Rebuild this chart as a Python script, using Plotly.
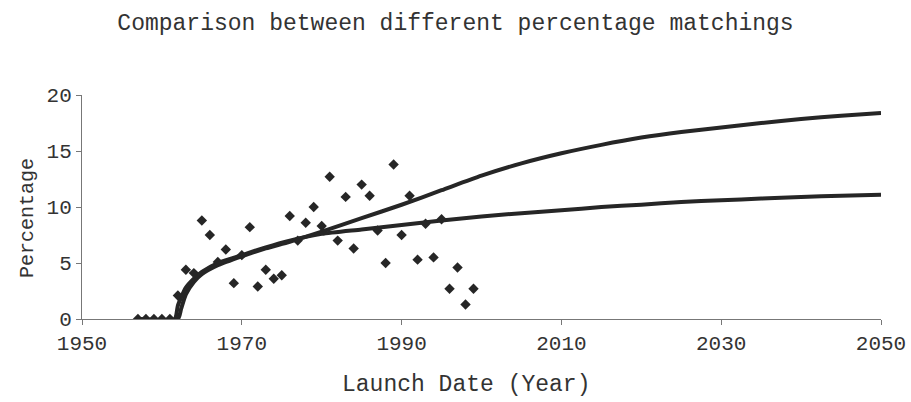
import plotly.graph_objects as go

# Observed data points (launch year, percentage)
obs_years = [1957, 1958, 1959, 1960, 1961, 1962, 1963, 1964, 1965, 1966, 1967, 1968,
             1969, 1970, 1971, 1972, 1973, 1974, 1975, 1976, 1977, 1978, 1979, 1980,
             1981, 1982, 1983, 1984, 1985, 1986, 1987, 1988, 1989, 1990, 1991, 1992,
             1993, 1994, 1995, 1996, 1997, 1998, 1999]
obs_values = [0, 0, 0, 0, 0, 2.1, 4.4, 4.1, 8.8, 7.5, 5.1, 6.2,
              3.2, 5.7, 8.2, 2.9, 4.4, 3.6, 3.9, 9.2, 7.0, 8.6, 10.0, 8.3,
              12.7, 7.0, 10.9, 6.3, 12.0, 11.0, 7.9, 5.0, 13.8, 7.5, 11.0, 5.3,
              8.5, 5.5, 8.9, 2.7, 4.6, 1.3, 2.7]

# Fitted curve A (upper at 2050)
fitA_years = [1957, 1962.0, 1962.4, 1963, 1964, 1965, 1967, 1970, 1973, 1976, 1980,
              1985, 1990, 1995, 2000, 2005, 2010, 2015, 2020, 2025, 2030, 2035,
              2040, 2045, 2050]
fitA_values = [0, 0, 0.9, 2.2, 3.3, 4.0, 4.8, 5.6, 6.3, 6.9, 7.8,
               9.0, 10.2, 11.5, 12.8, 13.9, 14.8, 15.55, 16.2, 16.7, 17.1, 17.5,
               17.85, 18.15, 18.4]

# Fitted curve B (lower at 2050)
fitB_years = [1957, 1961.6, 1962.0, 1963, 1964, 1965, 1967, 1970, 1973, 1976, 1980,
              1985, 1990, 1995, 2000, 2005, 2010, 2015, 2020, 2025, 2030, 2035,
              2040, 2045, 2050]
fitB_values = [0, 0, 1.2, 2.8, 3.6, 4.2, 5.0, 5.7, 6.4, 7.0, 7.6,
               8.0, 8.4, 8.8, 9.15, 9.45, 9.7, 10.0, 10.2, 10.45, 10.6, 10.75,
               10.9, 11.0, 11.1]

x_ticks = [1950, 1970, 1990, 2010, 2030, 2050]
y_ticks = [0, 5, 10, 15, 20]

FONT = "Liberation Mono, Courier New, monospace"
INK = "#262626"
TXT = "#333333"

fig = go.Figure()
fig.add_trace(go.Scatter(x=fitA_years, y=fitA_values, mode="lines",
                         line=dict(color=INK, width=4, shape="spline", smoothing=0.6),
                         showlegend=False, hoverinfo="skip"))
fig.add_trace(go.Scatter(x=fitB_years, y=fitB_values, mode="lines",
                         line=dict(color=INK, width=4, shape="spline", smoothing=0.6),
                         showlegend=False, hoverinfo="skip"))
fig.add_trace(go.Scatter(x=obs_years, y=obs_values, mode="markers",
                         marker=dict(symbol="diamond", size=8, color=INK),
                         showlegend=False))

fig.update_layout(
    width=911, height=402,
    margin=dict(l=82, r=30, t=95, b=83, autoexpand=False),
    paper_bgcolor="white", plot_bgcolor="white",
    font=dict(family=FONT, color=TXT, size=20),
    title=dict(text="Comparison between different percentage matchings",
               x=0.5, xanchor="center", y=1 - 22 / 402, yanchor="middle",
               font=dict(family=FONT, size=23, color=TXT)),
    xaxis=dict(range=[1950, 2050], tickvals=x_ticks, ticktext=[str(v) for v in x_ticks],
               showgrid=False, zeroline=False, showline=True, linecolor="#777777",
               linewidth=1, ticks="outside", ticklen=5, tickcolor="#777777",
               tickfont=dict(family=FONT, size=21, color=TXT)),
    yaxis=dict(range=[0, 20], tickvals=y_ticks, ticktext=[str(v) for v in y_ticks],
               showgrid=False, zeroline=False, showline=True, linecolor="#777777",
               linewidth=1, ticks="outside", ticklen=5, tickcolor="#777777",
               tickfont=dict(family=FONT, size=21, color=TXT)),
    annotations=[
        dict(text="Launch Date (Year)", xref="paper", yref="paper",
             x=(466 - 82) / (881 - 82), y=-(385 - 319) / (319 - 95),
             xanchor="center", yanchor="middle", showarrow=False,
             font=dict(family=FONT, size=23, color=TXT)),
        dict(text="Percentage", xref="paper", yref="paper",
             x=-(82 - 27) / (881 - 82), y=(319 - 218) / (319 - 95),
             xanchor="center", yanchor="middle", showarrow=False, textangle=-90,
             font=dict(family=FONT, size=20, color=TXT)),
    ],
)

fig.write_html("out.html",
               config={"displayModeBar": False},
               post_script="document.body.style.margin='0';document.body.style.overflow='hidden';")
